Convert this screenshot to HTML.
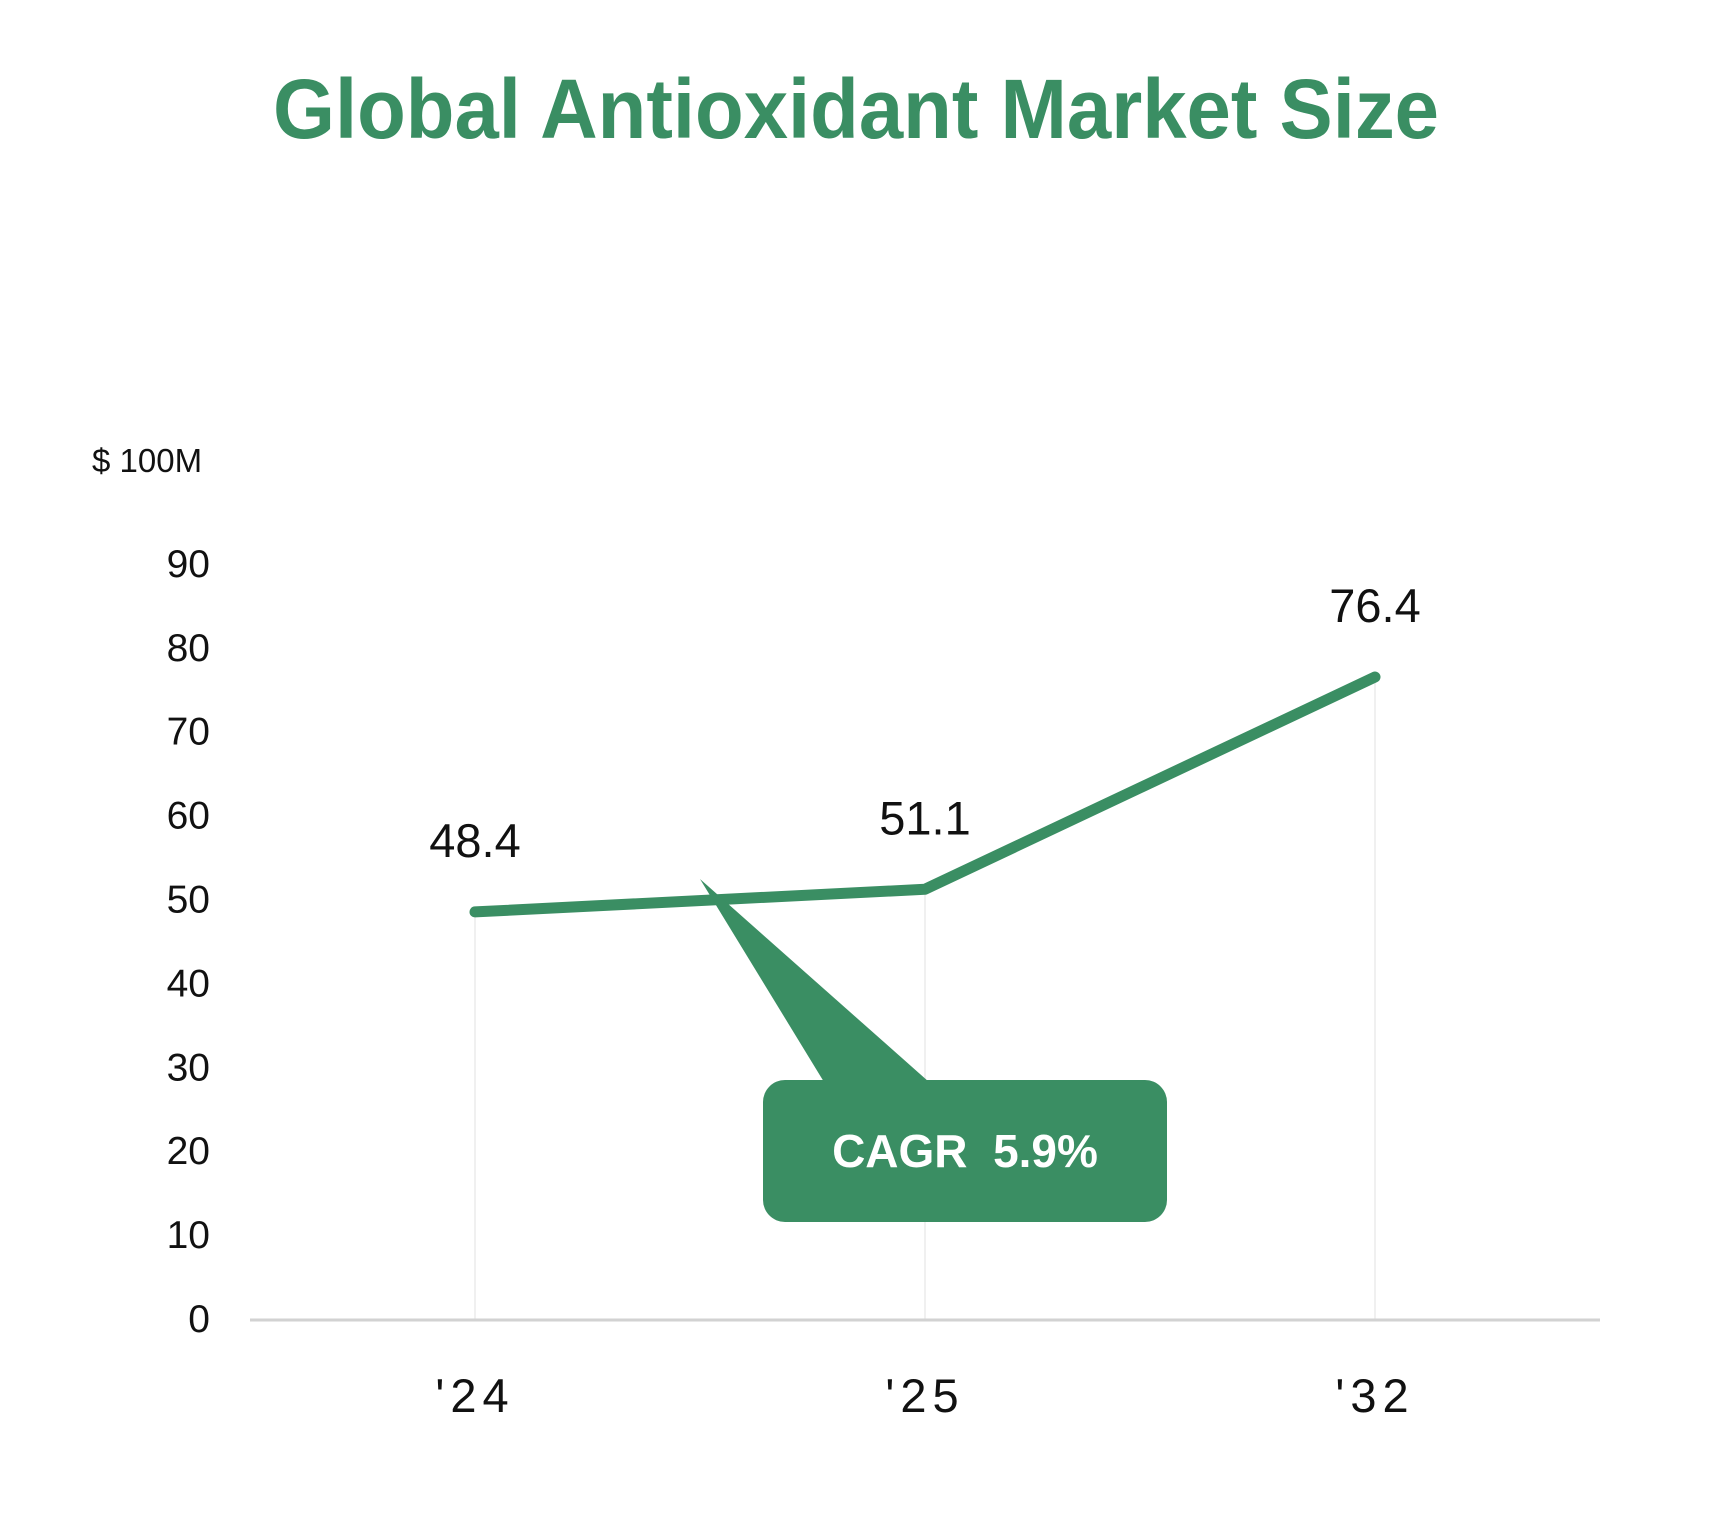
<!DOCTYPE html>
<html><head><meta charset="utf-8"><style>
html,body{margin:0;padding:0;background:#fff;}
svg{display:block;font-family:"Liberation Sans",sans-serif;}
</style></head><body>
<svg id="chart" width="1724" height="1520" viewBox="0 0 1724 1520">
<text x="273" y="138" font-size="84" font-weight="bold" fill="#3a8e63" textLength="1166" lengthAdjust="spacingAndGlyphs">Global Antioxidant Market Size</text>
<text x="92" y="472" font-size="33" fill="#111">$ 100M</text>
<g id="grid"></g>
<g id="yticks"></g>
<line x1="250" y1="1320" x2="1600" y2="1320" stroke="#d2d2d2" stroke-width="3"/>
<g id="xticks"></g>
<g id="series"></g>
<g id="labels"></g>
<g>
<path d="M700,879 L929,1082 L824,1082 Z" fill="#3a8e63"/>
<rect x="763" y="1080" width="404" height="142" rx="22" fill="#3a8e63"/>
<text x="965" y="1167" font-size="46" font-weight="bold" fill="#fff" text-anchor="middle" xml:space="preserve">CAGR  5.9%</text>
</g>
</svg>
<script>
const categories = ["'24", "'25", "'32"];
const values = [48.4, 51.1, 76.4];
const valueLabels = ["48.4", "51.1", "76.4"];
const yTicks = [0, 10, 20, 30, 40, 50, 60, 70, 80, 90];

const NS = "http://www.w3.org/2000/svg";
const xPos = i => 475 + i * 450;
const yPos = v => 1318 - v * 8.39;
function mk(tag, attrs, parent, txt) {
  const e = document.createElementNS(NS, tag);
  for (const k in attrs) e.setAttribute(k, attrs[k]);
  if (txt !== undefined) e.textContent = txt;
  parent.appendChild(e);
  return e;
}
const yt = document.getElementById('yticks');
yTicks.forEach(t => {
  const e = mk('text', {x: 210, y: yPos(t) + 14, 'font-size': 39, fill: '#111', 'text-anchor': 'end'}, yt, String(t));
  
  
});
const grid = document.getElementById('grid');
const xt = document.getElementById('xticks');
const labels = document.getElementById('labels');
categories.forEach((c, i) => {
  const g = mk('line', {x1: xPos(i), x2: xPos(i), y1: yPos(values[i]), y2: 1319, stroke: '#f0f0f0', 'stroke-width': 2}, grid);
  
  
  const t = mk('text', {x: xPos(i), y: 1412, 'font-size': 47, fill: '#111', 'text-anchor': 'middle', 'letter-spacing': 6}, xt, c);
  
  
  const l = mk('text', {x: xPos(i), y: yPos(values[i]) - 55, 'font-size': 47, fill: '#111', 'text-anchor': 'middle'}, labels, valueLabels[i]);
  
  
});
const pts = values.map((v, i) => xPos(i) + ',' + yPos(v)).join(' ');
const line = mk('polyline', {points: pts, fill: 'none', stroke: '#3a8e63', 'stroke-width': 11, 'stroke-linecap': 'round', 'stroke-linejoin': 'round'}, document.getElementById('series'));


</script>
</body></html>
